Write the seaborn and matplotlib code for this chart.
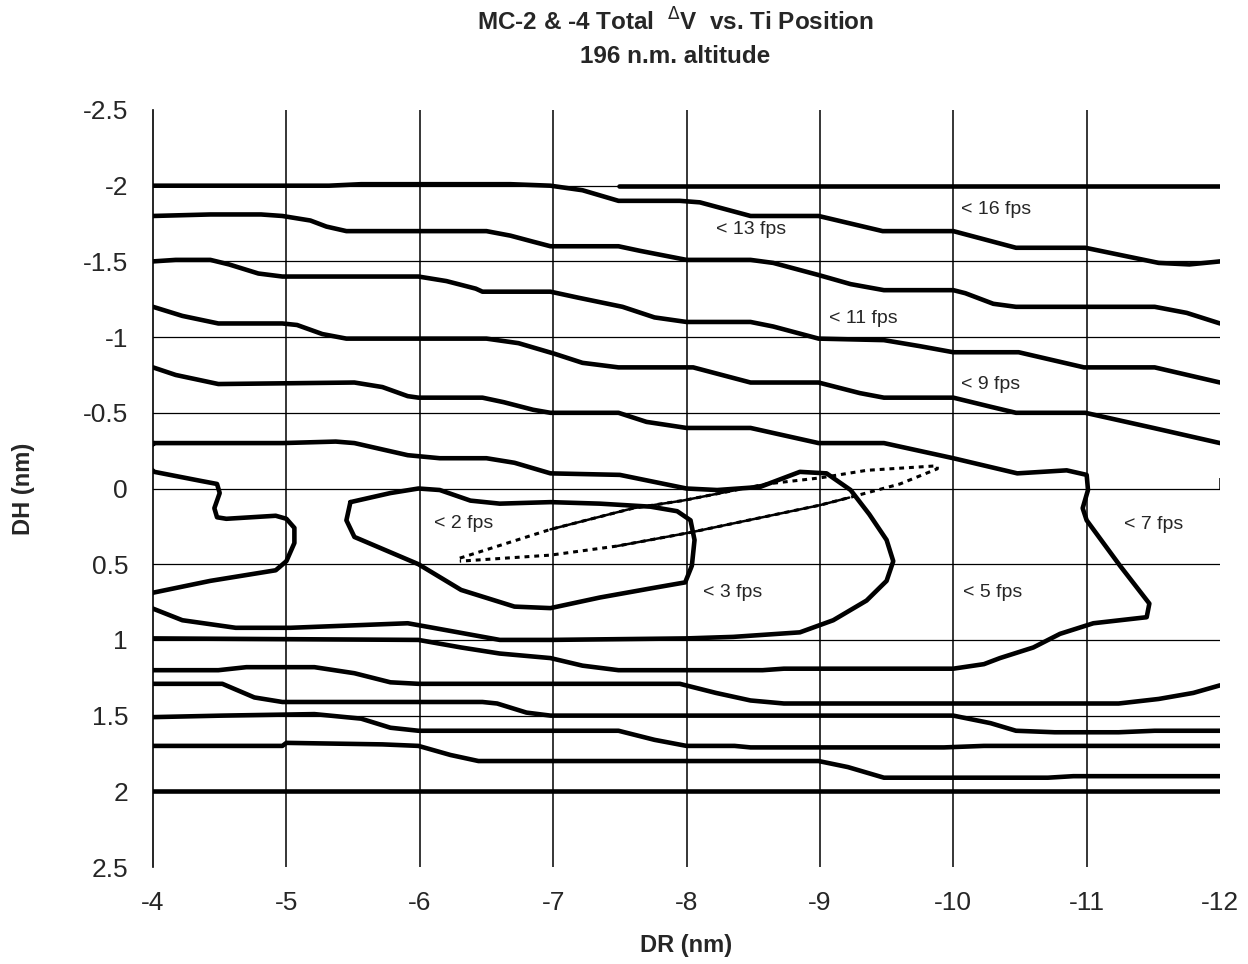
import pandas as pd
import matplotlib
matplotlib.use('Agg')
import seaborn as sns
from matplotlib import pyplot as plt

# contour traces, DR (nm) vs DH (nm)
top_flat_dr = [-7.49, -12.0]
top_flat_dh = [-2.0, -2.0]

l13_dr = [-4.0, -5.32, -5.56, -6.68, -6.98, -7.22, -7.49, -7.95, -8.10, -8.48, -8.99, -9.47,
          -10.0, -10.47, -10.99, -11.54, -11.77, -12.0]
l13_dh = [-2.0, -2.0, -2.01, -2.01, -2.0, -1.97, -1.90, -1.90, -1.89, -1.80, -1.80, -1.70,
          -1.70, -1.59, -1.59, -1.49, -1.48, -1.50]

l11_dr = [-4.0, -4.43, -4.81, -4.97, -5.18, -5.30, -5.45, -6.50, -6.68, -6.85, -6.98, -7.49, -7.65,
          -8.0, -8.48, -8.65, -8.99, -9.23, -9.48, -10.0, -10.09, -10.30, -10.47, -11.51, -11.75, -12.0]
l11_dh = [-1.80, -1.81, -1.81, -1.80, -1.77, -1.73, -1.70, -1.70, -1.67, -1.63, -1.60, -1.60, -1.57,
          -1.51, -1.51, -1.49, -1.41, -1.35, -1.31, -1.31, -1.29, -1.22, -1.20, -1.20, -1.16, -1.09]

l9_dr = [-4.0, -4.17, -4.43, -4.57, -4.79, -4.97, -5.99, -6.20, -6.42, -6.47, -6.98, -7.19, -7.52,
         -7.76, -8.0, -8.48, -8.65, -8.99, -9.48, -9.75, -10.0, -10.49, -10.98, -11.51, -12.0]
l9_dh = [-1.50, -1.51, -1.51, -1.48, -1.42, -1.40, -1.40, -1.37, -1.32, -1.30, -1.30, -1.26, -1.20,
         -1.13, -1.10, -1.10, -1.07, -0.99, -0.98, -0.94, -0.90, -0.90, -0.80, -0.80, -0.70]

l8_dr = [-4.0, -4.22, -4.49, -4.97, -5.08, -5.27, -5.45, -6.50, -6.74, -7.01, -7.22, -7.49, -8.05,
         -8.48, -8.99, -9.30, -9.48, -10.0, -10.28, -10.47, -10.99, -11.50, -12.0]
l8_dh = [-1.20, -1.14, -1.09, -1.09, -1.08, -1.02, -0.99, -0.99, -0.96, -0.89, -0.83, -0.80, -0.80,
         -0.70, -0.70, -0.63, -0.60, -0.60, -0.54, -0.50, -0.50, -0.40, -0.30]

l7_dr = [-4.0, -4.17, -4.49, -5.51, -5.72, -5.91, -5.99, -6.47, -6.63, -6.85, -6.98, -7.49, -7.70,
         -8.0, -8.48, -8.99, -9.48, -10.0, -10.48, -10.85, -11.0, -11.01, -10.97, -11.0, -11.25,
         -11.47, -11.45, -11.05, -10.80, -10.60, -10.35, -10.23, -10.0, -8.73, -8.57, -8.10, -7.49,
         -7.22, -6.98, -6.60, -6.31, -5.99, -4.0]
l7_dh = [-0.80, -0.75, -0.69, -0.70, -0.67, -0.61, -0.60, -0.60, -0.57, -0.52, -0.50, -0.50, -0.44,
         -0.40, -0.40, -0.30, -0.30, -0.20, -0.10, -0.12, -0.09, 0.01, 0.13, 0.21, 0.51,
         0.76, 0.85, 0.89, 0.96, 1.05, 1.12, 1.16, 1.19, 1.19, 1.20, 1.20, 1.20,
         1.17, 1.12, 1.09, 1.05, 1.0, 0.99]

l5_dr = [-4.01, -4.31, -4.97, -5.37, -5.51, -5.91, -6.15, -6.50, -6.71, -6.98, -7.50, -8.0, -8.23,
         -8.55, -8.85, -9.05, -9.23, -9.37, -9.50, -9.55, -9.50, -9.35, -9.10, -8.85, -8.35,
         -8.0, -6.98, -6.60, -6.10, -5.91, -5.03, -4.62, -4.22, -3.99, -3.97, -3.99, -4.43, -4.92,
         -5.0, -5.06, -5.06, -5.0, -4.92, -4.55, -4.48, -4.46, -4.50, -4.48, -4.36, -4.01, -3.97,
         -3.97, -4.01]
l5_dh = [-0.30, -0.30, -0.30, -0.31, -0.30, -0.22, -0.20, -0.20, -0.17, -0.10, -0.09, 0.0, 0.01,
         -0.01, -0.11, -0.10, 0.01, 0.17, 0.34, 0.48, 0.61, 0.74, 0.87, 0.95, 0.98,
         0.99, 1.0, 1.0, 0.92, 0.89, 0.92, 0.92, 0.87, 0.79, 0.74, 0.69, 0.61, 0.54,
         0.48, 0.36, 0.26, 0.20, 0.18, 0.20, 0.19, 0.13, 0.03, -0.03, -0.05, -0.11, -0.14,
         -0.27, -0.30]

l3_dr = [-5.48, -5.78, -5.99, -6.15, -6.38, -6.60, -6.98, -7.35, -7.73, -7.93, -8.03, -8.06, -8.04,
         -7.99, -7.73, -7.35, -6.98, -6.71, -6.31, -5.99, -5.51, -5.45, -5.48]
l3_dh = [0.09, 0.03, 0.0, 0.01, 0.08, 0.10, 0.09, 0.10, 0.12, 0.15, 0.21, 0.34, 0.51,
         0.62, 0.66, 0.72, 0.79, 0.78, 0.67, 0.50, 0.32, 0.21, 0.09]

# thin dotted 2 fps loop
l2_dr = [-6.30, -6.98, -7.60, -7.97, -8.60, -9.0, -9.35, -9.88, -9.88, -9.60, -9.22, -9.0, -8.03,
         -7.48, -6.98, -6.30]
l2_dh = [0.46, 0.27, 0.13, 0.08, -0.03, -0.07, -0.12, -0.15, -0.13, -0.03, 0.06, 0.11, 0.29,
         0.38, 0.44, 0.48]

b1_dr = [-4.0, -4.49, -4.70, -5.21, -5.51, -5.78, -5.99, -6.98, -7.95, -8.22, -8.48, -8.73,
         -11.24, -11.54, -11.80, -12.0]
b1_dh = [1.20, 1.20, 1.18, 1.18, 1.22, 1.28, 1.29, 1.29, 1.29, 1.35, 1.40, 1.42,
         1.42, 1.39, 1.35, 1.30]

b2_dr = [-4.0, -4.43, -4.52, -4.76, -4.97, -6.47, -6.58, -6.80, -6.98, -10.0, -10.28, -10.47,
         -10.76, -11.24, -11.51, -12.0]
b2_dh = [1.29, 1.29, 1.29, 1.38, 1.41, 1.41, 1.42, 1.48, 1.50, 1.50, 1.55, 1.60,
         1.61, 1.61, 1.60, 1.60]

b3_dr = [-4.0, -4.52, -5.21, -5.56, -5.78, -5.99, -7.49, -7.76, -8.0, -8.36, -8.48, -9.93, -10.23, -12.0]
b3_dh = [1.51, 1.50, 1.49, 1.52, 1.58, 1.60, 1.60, 1.66, 1.70, 1.70, 1.71, 1.71, 1.70, 1.70]

b4_dr = [-4.0, -4.97, -5.0, -5.72, -5.99, -6.23, -6.44, -8.99, -9.21, -9.48, -10.71, -10.90, -12.0]
b4_dh = [1.70, 1.70, 1.68, 1.69, 1.70, 1.76, 1.80, 1.80, 1.84, 1.91, 1.91, 1.90, 1.90]

b5_dr = [-4.0, -12.0]
b5_dh = [2.0, 2.0]

labels = ['< 16 fps', '< 13 fps', '< 11 fps', '< 9 fps', '< 2 fps', '< 3 fps', '< 5 fps', '< 7 fps']
label_dr = [-10.06, -8.22, -9.07, -10.06, -6.11, -8.12, -10.07, -11.28]
label_dh = [-1.84, -1.71, -1.12, -0.69, 0.23, 0.69, 0.69, 0.24]

x_ticks = [-4, -5, -6, -7, -8, -9, -10, -11, -12]
y_ticks = [-2.5, -2, -1.5, -1, -0.5, 0, 0.5, 1, 1.5, 2, 2.5]

traces = {
    'top': (top_flat_dr, top_flat_dh), 'l13': (l13_dr, l13_dh), 'l11': (l11_dr, l11_dh),
    'l9': (l9_dr, l9_dh), 'l8': (l8_dr, l8_dh), 'l7': (l7_dr, l7_dh), 'l5': (l5_dr, l5_dh),
    'l3': (l3_dr, l3_dh), 'b1': (b1_dr, b1_dh), 'b2': (b2_dr, b2_dh), 'b3': (b3_dr, b3_dh),
    'b4': (b4_dr, b4_dh), 'b5': (b5_dr, b5_dh),
}
frames = []
for name, (dr, dh) in traces.items():
    frames.append(pd.DataFrame({'DR': dr, 'DH': dh, 'line': name}))
pd_lines = pd.concat(frames, ignore_index=True)

sns.set_style("white")
plt.rcParams['font.family'] = ['Liberation Sans', 'DejaVu Sans']

fig = plt.figure(figsize=(12.48, 9.64), dpi=100)
axe = fig.add_axes([0.1226, 0.1006, 0.855, 0.7853])

for v in x_ticks[1:-1]:
    axe.axvline(v, color='black', linewidth=1.1, zorder=0)
for h in y_ticks[1:-1]:
    axe.axhline(h, color='black', linewidth=0.9, zorder=0)

sns.lineplot(data=pd_lines, x='DR', y='DH', units='line', estimator=None, sort=False,
             color='black', linewidth=3.3, legend=False, ax=axe,
             solid_joinstyle='round', solid_capstyle='round')

# 2 fps loop: dotted outline with solid middle stretches
axe.plot(l2_dr, l2_dh, color='black', linewidth=2.2, linestyle=(0, (1.6, 1.6)))
axe.plot(l2_dr[1:5], l2_dh[1:5], color='black', linewidth=1.8)
axe.plot(l2_dr[10:14], l2_dh[10:14], color='black', linewidth=1.8)

# small end tick of the x axis at DH = 0
axe.vlines(x_ticks[-1], -0.07, 0, color='black', linewidth=1.1)

for txt, x, y in zip(labels, label_dr, label_dh):
    axe.text(x, y, txt, fontsize=14, ha='left', va='center')

axe.set_xlim(-4, -12)
axe.set_ylim(2.5, -2.5)
axe.set_xticks(x_ticks)
axe.set_xticklabels([str(t) for t in x_ticks])
axe.set_yticks(y_ticks)
axe.set_yticklabels(['-2.5', '-2', '-1.5', '-1', '-0.5', '0', '0.5', '1', '1.5', '2', '2.5'])
axe.tick_params(axis='x', length=0, labelsize=19, pad=17)
axe.tick_params(axis='y', direction='in', length=6, width=1, labelsize=19, pad=18)
for s in ['top', 'right', 'bottom']:
    axe.spines[s].set_visible(False)
axe.spines['left'].set_color('black')
axe.spines['left'].set_linewidth(1.2)

axe.set_xlabel('DR (nm)', fontsize=17, fontweight='bold', labelpad=14)
axe.set_ylabel('DH (nm)', fontsize=17, fontweight='bold', labelpad=34)

fig.text(0.541, 0.977, r'MC-2 & -4 Total  $^{\Delta}$V  vs. Ti Position', fontsize=17.5,
         fontweight='bold', ha='center', va='center')
fig.text(0.541, 0.941, '196 n.m. altitude', fontsize=17.5, fontweight='bold', ha='center', va='center')

plt.savefig('out.png', dpi=100)
